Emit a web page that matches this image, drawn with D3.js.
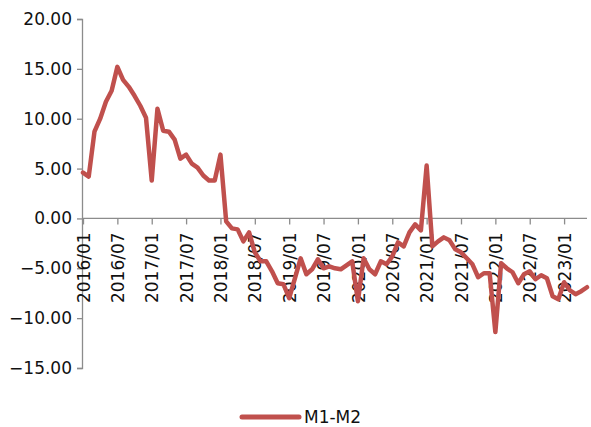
<!DOCTYPE html>
<html>
<head>
<meta charset="utf-8">
<script src="https://cdn.jsdelivr.net/npm/d3@7/dist/d3.min.js"></script>
<style>
  html, body { margin: 0; padding: 0; background: #fff; }
  svg { display: block; }
  text { font-family: "DejaVu Sans", Verdana, sans-serif; fill: #111; }
</style>
</head>
<body>
<svg id="chart" width="591" height="427"></svg>
<script>
// ---- data ----
const months = [
  "2016/01","2016/02","2016/03","2016/04","2016/05","2016/06","2016/07","2016/08","2016/09","2016/10","2016/11","2016/12",
  "2017/01","2017/02","2017/03","2017/04","2017/05","2017/06","2017/07","2017/08","2017/09","2017/10","2017/11","2017/12",
  "2018/01","2018/02","2018/03","2018/04","2018/05","2018/06","2018/07","2018/08","2018/09","2018/10","2018/11","2018/12",
  "2019/01","2019/02","2019/03","2019/04","2019/05","2019/06","2019/07","2019/08","2019/09","2019/10","2019/11","2019/12",
  "2020/01","2020/02","2020/03","2020/04","2020/05","2020/06","2020/07","2020/08","2020/09","2020/10","2020/11","2020/12",
  "2021/01","2021/02","2021/03","2021/04","2021/05","2021/06","2021/07","2021/08","2021/09","2021/10","2021/11","2021/12",
  "2022/01","2022/02","2022/03","2022/04","2022/05","2022/06","2022/07","2022/08","2022/09","2022/10","2022/11","2022/12",
  "2023/01","2023/02","2023/03","2023/04","2023/05"
];
const m1m2 = [
  4.6, 4.2, 8.7, 10.0, 11.7, 12.8, 15.2, 13.9, 13.2, 12.3, 11.3, 10.1,
  3.8, 11.0, 8.8, 8.7, 7.9, 6.0, 6.4, 5.5, 5.1, 4.3, 3.8, 3.8,
  6.4, -0.3, -1.0, -1.1, -2.3, -1.4, -3.4, -4.3, -4.3, -5.3, -6.5, -6.6,
  -8.0, -6.0, -4.0, -5.6, -5.1, -4.1, -5.0, -4.8, -5.0, -5.1, -4.7, -4.3,
  -8.3, -4.0, -5.1, -5.6, -4.3, -4.6, -3.8, -2.4, -2.8, -1.4, -0.6, -1.2,
  5.3, -2.8, -2.3, -1.9, -2.2, -3.1, -3.4, -4.0, -4.6, -5.9, -5.5, -5.5,
  -11.4, -4.5, -5.0, -5.4, -6.5, -5.6, -5.3, -6.1, -5.7, -6.0, -7.8, -8.1,
  -6.4, -7.2, -7.6, -7.3, -6.9
];
const xTickLabels = ["2016/01","2016/07","2017/01","2017/07","2018/01","2018/07","2019/01","2019/07",
  "2020/01","2020/07","2021/01","2021/07","2022/01","2022/07","2023/01"];
const yTicks = [20, 15, 10, 5, 0, -5, -10, -15];
const seriesName = "M1-M2";

// ---- chart ----
const svg = d3.select("#chart");
const axisColor = "#8c8c8c";
const lineColor = "#C0504D";

const x = d3.scalePoint().domain(months).range([83, 587]);
const y = d3.scaleLinear().domain([-15, 20]).range([368, 19]);

// y axis
const yAxis = d3.axisLeft(y).tickValues(yTicks).tickSize(5).tickPadding(5)
  .tickFormat(d => d3.format(".2f")(d));
const gy = svg.append("g").attr("transform", "translate(82,0)").call(yAxis);
gy.select(".domain").attr("stroke", axisColor).attr("stroke-width", 1.3);
gy.selectAll(".tick line").attr("stroke", axisColor).attr("stroke-width", 1.3);
gy.selectAll(".tick text").style("font-size", "17px").attr("fill", "#111");

// x axis at zero
const xAxis = d3.axisBottom(x).tickValues(xTickLabels).tickSize(6).tickSizeOuter(0);
const gx = svg.append("g").attr("transform", `translate(0,${y(0)})`).call(xAxis);
gx.select(".domain").attr("stroke", axisColor).attr("stroke-width", 1.3)
  .attr("d", `M82,0H587`);
gx.selectAll(".tick line").attr("stroke", axisColor).attr("stroke-width", 1.3);
gx.selectAll(".tick text")
  .style("font-size", "17px")
  .attr("fill", "#111")
  .attr("text-anchor", "end")
  .attr("transform", "rotate(-90)")
  .attr("x", -14)
  .attr("y", 0)
  .attr("dy", "0.36em");

// line
const line = d3.line().x((d, i) => x(months[i])).y(d => y(d));
svg.append("path")
  .datum(m1m2)
  .attr("d", line)
  .attr("fill", "none")
  .attr("stroke", lineColor)
  .attr("stroke-width", 4.5)
  .attr("stroke-linejoin", "round")
  .attr("stroke-linecap", "round");

// legend
const lg = svg.append("g");
lg.append("line").attr("x1", 242).attr("x2", 299).attr("y1", 417).attr("y2", 417)
  .attr("stroke", lineColor).attr("stroke-width", 5).attr("stroke-linecap", "round");
lg.append("text").attr("x", 304).attr("y", 417).attr("dy", "0.36em")
  .style("font-size", "17px").text(seriesName);
</script>
</body>
</html>
